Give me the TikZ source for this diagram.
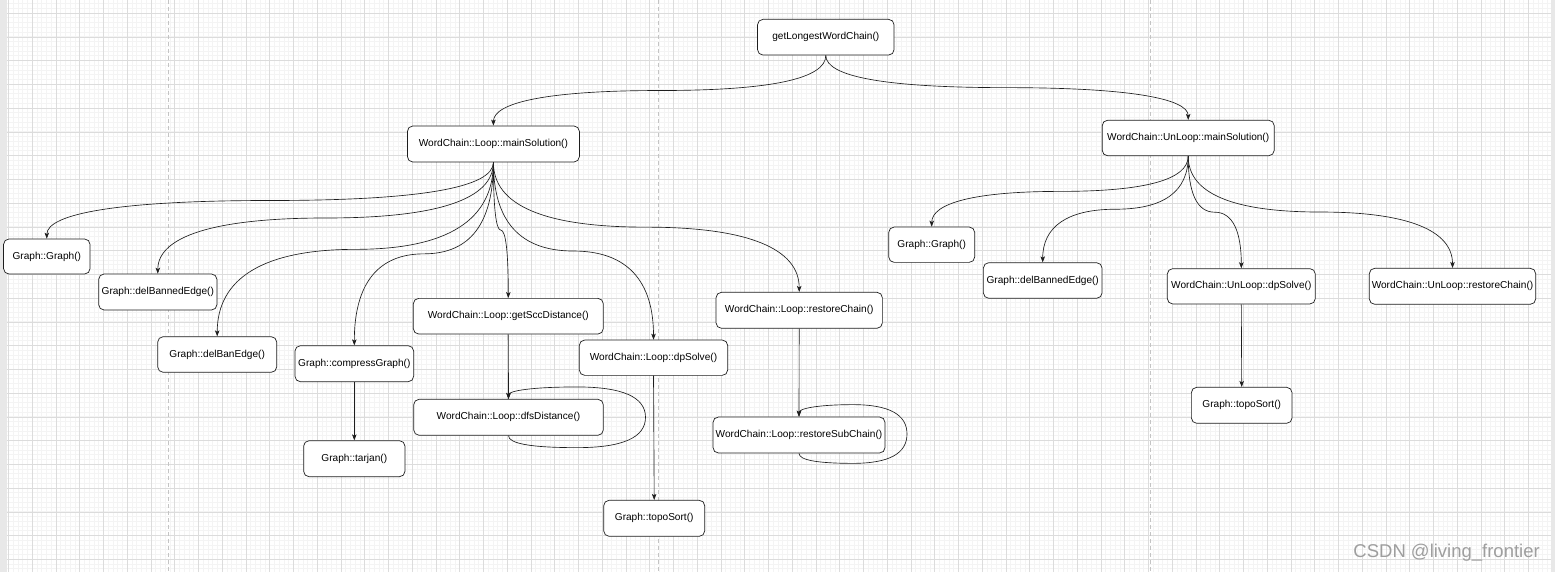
\documentclass[tikz,border=0pt]{standalone}
\usepackage{fontspec}
\setmainfont{Liberation Sans}
\usetikzlibrary{calc,arrows.meta}
\definecolor{minorgrid}{RGB}{244,244,244}
\definecolor{majorgrid}{RGB}{220,220,220}
\definecolor{pagebreak}{RGB}{196,196,196}
\definecolor{wm}{RGB}{158,158,158}
\definecolor{strip}{RGB}{232,232,232}
\definecolor{ink}{RGB}{30,30,30}
\tikzset{
  box/.style={draw=ink, line width=0.7pt, rounded corners=5.4pt, fill=white,
    inner sep=0pt, align=center, font=\fontsize{10.1}{12}\selectfont},
  edge/.style={draw=ink, line width=0.65pt,
    -{Stealth[length=6pt,width=4.5pt,inset=1.5pt]}},
  curv/.style={to path={let \p1=(\tikztostart), \p2=(\tikztotarget) in
    .. controls (\x1,{(\y1)+((\y2)-(\y1))/3})
       and ({(5*(\x1)+(\x2))/6},{((\y1)+(\y2))/2})
    .. ({((\x1)+(\x2))/2},{((\y1)+(\y2))/2})
    .. controls ({((\x1)+5*(\x2))/6},{((\y1)+(\y2))/2})
       and (\x2,{(\y2)-((\y2)-(\y1))/3})
    .. (\tikztotarget) \tikztonodes}},
  gridminor/.style={draw=minorgrid, line width=0.6pt},
  gridmajor/.style={draw=majorgrid, line width=0.7pt},
  pagebrk/.style={draw=pagebreak, line width=0.8pt, dash pattern=on 4pt off 3pt}
}
\begin{document}
\begin{tikzpicture}[x=1pt,y=-1pt]
\useasboundingbox (0,0) rectangle (1555,572);
% background and grid
\fill[white] (0,0) rectangle (1555,572);
\foreach \i in {0,...,327} \draw[gridminor] ({3.75+4.75*\i},0) -- ++(0,572);
\foreach \i in {0,...,120} \draw[gridminor] (0,{3.5+4.75*\i}) -- ++(1555,0);
\foreach \i in {0,...,65} \draw[gridmajor] ({8.5+23.75*\i},0) -- ++(0,572);
\foreach \i in {0,...,23} \draw[gridmajor] (0,{13.3+23.75*\i}) -- ++(1555,0);
\fill[strip] (0,0) rectangle (6.5,572);
\fill[strip] (1551,0) rectangle (1555,572);
\draw[pagebrk] (168.7,0) -- (168.7,572);
\draw[pagebrk] (658.3,0) -- (658.3,572);
\draw[pagebrk] (1150.5,0) -- (1150.5,572);

% nodes
\node[box, minimum width=136.5pt, minimum height=35.7pt] (glwc) at (825.8,37.2) {getLongestWordChain()};
\node[box, minimum width=172pt, minimum height=36pt] (lmain) at (493.4,144) {WordChain::Loop::mainSolution()};
\node[box, minimum width=172pt, minimum height=35.5pt] (umain) at (1188.2,138) {WordChain::UnLoop::mainSolution()};
\node[box, minimum width=86.5pt, minimum height=35pt] (gga) at (46.8,256.5) {Graph::Graph()};
\node[box, minimum width=118.3pt, minimum height=36pt] (dbea) at (157.8,292) {Graph::delBannedEdge()};
\node[box, minimum width=119pt, minimum height=35.6pt] (dban) at (217.2,354.5) {Graph::delBanEdge()};
\node[box, minimum width=118.7pt, minimum height=36pt] (cg) at (354.3,363.7) {Graph::compressGraph()};
\node[box, minimum width=101.3pt, minimum height=36pt] (tj) at (354.3,458.7) {Graph::tarjan()};
\node[box, minimum width=190pt, minimum height=35.7pt] (gsd) at (508.3,316.2) {WordChain::Loop::getSccDistance()};
\node[box, minimum width=189.6pt, minimum height=36pt] (dfs) at (508.5,417.3) {WordChain::Loop::dfsDistance()};
\node[box, minimum width=148.4pt, minimum height=35.3pt] (ldp) at (653.5,357.7) {WordChain::Loop::dpSolve()};
\node[box, minimum width=101pt, minimum height=36pt] (tsa) at (654.2,518.3) {Graph::topoSort()};
\node[box, minimum width=166.3pt, minimum height=36pt] (lrc) at (799.2,310.3) {WordChain::Loop::restoreChain()};
\node[box, minimum width=172pt, minimum height=36pt] (lrsc) at (799,435) {WordChain::Loop::restoreSubChain()};
\node[box, minimum width=86pt, minimum height=35.3pt] (ggb) at (931.7,244.7) {Graph::Graph()};
\node[box, minimum width=118.7pt, minimum height=35.6pt] (dbeb) at (1042.7,280.5) {Graph::delBannedEdge()};
\node[box, minimum width=148pt, minimum height=35.3pt] (udp) at (1241.3,286.3) {WordChain::UnLoop::dpSolve()};
\node[box, minimum width=100.7pt, minimum height=36pt] (tsb) at (1241.7,405.3) {Graph::topoSort()};
\node[box, minimum width=166.4pt, minimum height=36pt] (urc) at (1452.5,286.3) {WordChain::UnLoop::restoreChain()};

% curved edges
\draw[edge] (glwc.south) to[curv] (lmain.north);
\draw[edge] (glwc.south) to[curv] (umain.north);
\draw[edge] (lmain.south) to[curv] (gga.north);
\draw[edge] (lmain.south) to[curv] (dbea.north);
\draw[edge] (lmain.south) to[curv] (dban.north);
\draw[edge] (lmain.south) to[curv] (cg.north);
\draw[edge] (lmain.south) to[curv] (gsd.north);
\draw[edge] (lmain.south) to[curv] (ldp.north);
\draw[edge] (lmain.south) to[curv] (lrc.north);
\draw[edge] (umain.south) to[curv] (ggb.north);
\draw[edge] (umain.south) to[curv] (dbeb.north);
\draw[edge] (umain.south) to[curv] (udp.north);
\draw[edge] (umain.south) to[curv] (urc.north);

% straight edges
\draw[edge] (cg.south) -- (tj.north);
\draw[edge] (gsd.south) -- (dfs.north);
\draw[edge] (ldp.south) -- (tsa.north);
\draw[edge] (lrc.south) -- (lrsc.north);
\draw[edge] (udp.south) -- (tsb.north);

% self loop on dfsDistance
\coordinate (d1) at ($(dfs.south)+(0,12)$);
\coordinate (d2) at ($(dfs.south)+(137,12)$);
\coordinate (d3) at ($(dfs.north)+(137,-12)$);
\coordinate (d4) at ($(dfs.north)+(0,-12)$);
\coordinate (dm1) at ($(d1)!0.5!(d2)$);
\coordinate (dm2) at ($(d2)!0.5!(d3)$);
\coordinate (dm3) at ($(d3)!0.5!(d4)$);
\draw[edge] (dfs.south)
  .. controls ($(dfs.south)!2/3!(d1)$) and ($(dm1)!2/3!(d1)$) .. (dm1)
  .. controls ($(dm1)!2/3!(d2)$) and ($(dm2)!2/3!(d2)$) .. (dm2)
  .. controls ($(dm2)!2/3!(d3)$) and ($(dm3)!2/3!(d3)$) .. (dm3)
  .. controls ($(dm3)!2/3!(d4)$) and ($(dfs.north)!2/3!(d4)$) .. (dfs.north);

% self loop on restoreSubChain
\coordinate (r1) at ($(lrsc.south)+(0,10)$);
\coordinate (r2) at ($(lrsc.south)+(108,10)$);
\coordinate (r3) at ($(lrsc.north)+(108,-12)$);
\coordinate (r4) at ($(lrsc.north)+(0,-12)$);
\coordinate (rm1) at ($(r1)!0.5!(r2)$);
\coordinate (rm2) at ($(r2)!0.5!(r3)$);
\coordinate (rm3) at ($(r3)!0.5!(r4)$);
\draw[edge] (lrsc.south)
  .. controls ($(lrsc.south)!2/3!(r1)$) and ($(rm1)!2/3!(r1)$) .. (rm1)
  .. controls ($(rm1)!2/3!(r2)$) and ($(rm2)!2/3!(r2)$) .. (rm2)
  .. controls ($(rm2)!2/3!(r3)$) and ($(rm3)!2/3!(r3)$) .. (rm3)
  .. controls ($(rm3)!2/3!(r4)$) and ($(lrsc.north)!2/3!(r4)$) .. (lrsc.north);

% watermark
\node[font=\fontsize{18.5}{20}\selectfont, text=wm, anchor=east, inner sep=0pt] (wmk) at (1540,553) {CSDN @living\_frontier};
\end{tikzpicture}
\end{document}
